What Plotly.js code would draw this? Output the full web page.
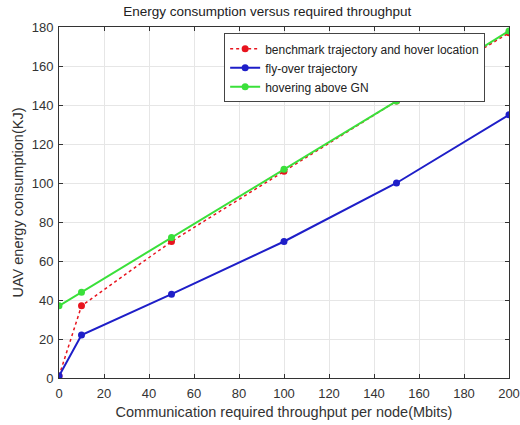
<!DOCTYPE html>
<html>
<head>
<meta charset="utf-8">
<script src="https://cdn.plot.ly/plotly-3.0.1.min.js"></script>
<style>html,body{margin:0;padding:0;background:#fff;}#plot{width:520px;height:425px;}</style>
</head>
<body>
<div id="plot"></div>
<script>
const throughput = [0, 10, 50, 100, 150, 200];
const benchmark = [1, 37, 70, 106, 142, 177];
const flyover = [1, 22, 43, 70, 100, 135];
const hovering = [37, 44, 72, 107, 142, 178];
const seriesNames = ["benchmark trajectory and hover location", "fly-over trajectory", "hovering above GN"];

const font = "Liberation Sans, Arial, sans-serif";
const traces = [
  {x: throughput, y: benchmark, name: seriesNames[0], mode: "lines+markers",
   line: {color: "#e8141e", width: 1.5, dash: "dot"}, marker: {color: "#e8141e", size: 7}},
  {x: throughput, y: flyover, name: seriesNames[1], mode: "lines+markers",
   line: {color: "#1e1ec8", width: 2}, marker: {color: "#1e1ec8", size: 7}},
  {x: throughput, y: hovering, name: seriesNames[2], mode: "lines+markers",
   line: {color: "#3ae03a", width: 2}, marker: {color: "#3ae03a", size: 7}}
];
const axisCommon = {
  showline: true, linecolor: "#333", linewidth: 1, mirror: "ticks",
  ticks: "inside", ticklen: 4, tickcolor: "#333",
  showgrid: true, gridcolor: "#e6e6e6", zeroline: false,
  tickfont: {family: font, size: 13, color: "#333"}
};
const layout = {
  width: 520, height: 425,
  margin: {l: 59, r: 11, t: 27, b: 47},
  paper_bgcolor: "#fff", plot_bgcolor: "#fff",
  title: {text: "Energy consumption versus required throughput", font: {family: font, size: 13.5, color: "#222"}, x: 0.514, xanchor: "center", y: 0.974, yanchor: "middle"},
  xaxis: Object.assign({}, axisCommon, {range: [0, 200], dtick: 20, ticklabelstandoff: 3,
    title: {text: "Communication required throughput per node(Mbits)", font: {family: font, size: 14.5, color: "#333"}, standoff: 7}}),
  yaxis: Object.assign({}, axisCommon, {range: [0, 180], dtick: 20, ticklabelstandoff: 2,
    title: {text: "UAV energy consumption(KJ)", font: {family: font, size: 14.5, color: "#333"}, standoff: 4}}),
  showlegend: true,
  legend: {x: 0.367, y: 0.982, xanchor: "left", yanchor: "top", bgcolor: "#fff",
    bordercolor: "#444", borderwidth: 1, font: {family: font, size: 12, color: "#222"},
    tracegroupgap: 0, itemwidth: 30}
};
Plotly.newPlot("plot", traces, layout, {displayModeBar: false, staticPlot: true});
</script>
</body>
</html>
